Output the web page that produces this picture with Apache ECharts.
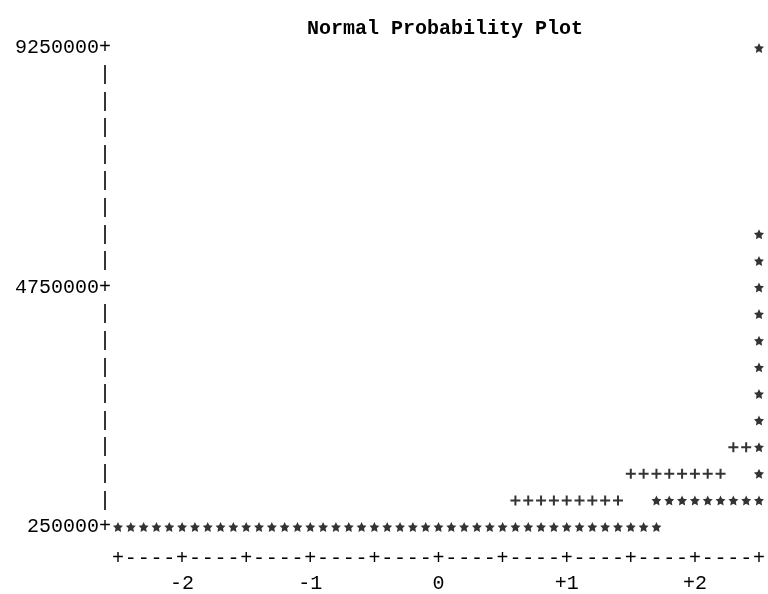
<!DOCTYPE html>
<html>
<head>
<meta charset="utf-8">
<script src="https://cdn.jsdelivr.net/npm/echarts@6/dist/echarts.min.js"></script>
<style>
html,body{margin:0;padding:0;background:#fff;}
#chart{width:768px;height:594px;}
</style>
</head>
<body>
<div id="chart"></div>
<script>
// ---- Data ----
// Observed values ('*'): normal quantile positions at each value level
const starsAt250000 = [-2.5,-2.4,-2.3,-2.2,-2.1,-2.0,-1.9,-1.8,-1.7,-1.6,-1.5,-1.4,-1.3,-1.2,-1.1,-1.0,-0.9,-0.8,-0.7,-0.6,-0.5,-0.4,-0.3,-0.2,-0.1,0.0,0.1,0.2,0.3,0.4,0.5,0.6,0.7,0.8,0.9,1.0,1.1,1.2,1.3,1.4,1.5,1.6,1.7];
const starsAt750000 = [1.7,1.8,1.9,2.0,2.1,2.2,2.3,2.4,2.5];
// Upper tail observations, all at quantile 2.5
const rightEdgeValues = [1250000,1750000,2250000,2750000,3250000,3750000,4250000,4750000,5250000,5750000,9250000];
const rightEdgeQuantile = 2.5;
// Reference normal line ('+')
const refAt750000 = [0.6,0.7,0.8,0.9,1.0,1.1,1.2,1.3,1.4];
const refAt1250000 = [1.5,1.6,1.7,1.8,1.9,2.0,2.1,2.2];
const refAt1750000 = [2.3,2.4];
// Axis labels
const yTickLabels = [250000, 4750000, 9250000];
const xTickValues = [-2, -1, 0, 1, 2];
const xTickLabels = ['-2', '-1', '0', '+1', '+2'];
const titleText = 'Normal Probability Plot';

// ---- Build series data ----
const starData = []
  .concat(starsAt250000.map(q => [q, 250000]))
  .concat(starsAt750000.map(q => [q, 750000]))
  .concat(rightEdgeValues.map(v => [rightEdgeQuantile, v]));
const refData = []
  .concat(refAt750000.map(q => [q, 750000]))
  .concat(refAt1250000.map(q => [q, 1250000]))
  .concat(refAt1750000.map(q => [q, 1750000]));

const FONT = 'Liberation Mono';
const starPath = 'path://M0,-10L2.9,-4L9.5,-3.1L4.7,1.5L5.9,8.1L0,5L-5.9,8.1L-4.7,1.5L-9.5,-3.1L-2.9,-4Z';
const plusPath = 'path://M4,0H6V4H10V6H6V10H4V6H0V4H4Z';

const chart = echarts.init(document.getElementById('chart'), null, {renderer: 'canvas'});
chart.setOption({
  backgroundColor: '#fff',
  animation: false,
  title: {
    text: titleText,
    left: 440,
    top: 14,
    textAlign: 'center',
    textStyle: {fontFamily: FONT, fontSize: 20, fontWeight: 'bold', color: '#000'}
  },
  grid: {left: 118, right: 5, top: 48, bottom: 63, containLabel: false},
  xAxis: {
    type: 'value',
    min: -2.5, max: 2.5, interval: 0.1,
    axisLine: {show: false},
    axisTick: {show: false},
    splitLine: {show: false},
    axisLabel: {
      margin: 19,
      fontFamily: FONT,
      fontSize: 20,
      color: '#000',
      showMinLabel: true,
      showMaxLabel: true,
      formatter: function (v) {
        const col = Math.round((v + 2.5) * 10);
        const mark = (col % 5 === 0) ? '+' : '-';
        const idx = xTickValues.findIndex(t => Math.abs(t - v) < 1e-6);
        if (idx >= 0) return '{p|' + mark + '}\n{n|' + xTickLabels[idx] + '}';
        return '{p|' + mark + '}';
      },
      rich: {
        p: {fontFamily: FONT, fontSize: 20, lineHeight: 26, color: '#000'},
        n: {fontFamily: FONT, fontSize: 20, lineHeight: 24, color: '#000'}
      }
    }
  },
  yAxis: {
    type: 'value',
    min: 250000, max: 9250000, interval: 500000,
    axisLine: {show: false},
    axisTick: {show: false},
    splitLine: {show: false},
    axisLabel: {
      margin: 7,
      fontFamily: FONT,
      fontSize: 20,
      color: '#000',
      showMinLabel: true,
      showMaxLabel: true,
      formatter: function (v) {
        if (yTickLabels.some(t => Math.abs(t - v) < 1)) return String(v) + '+';
        return '|';
      }
    }
  },
  series: [
    {
      name: 'Reference line',
      type: 'scatter',
      data: refData,
      symbol: plusPath,
      symbolSize: 10,
      itemStyle: {color: '#000'},
      clip: false,
      z: 2
    },
    {
      name: 'Observed',
      type: 'scatter',
      data: starData,
      symbol: starPath,
      symbolSize: 10,
      itemStyle: {color: '#000'},
      clip: false,
      z: 3
    }
  ]
});
</script>
</body>
</html>
